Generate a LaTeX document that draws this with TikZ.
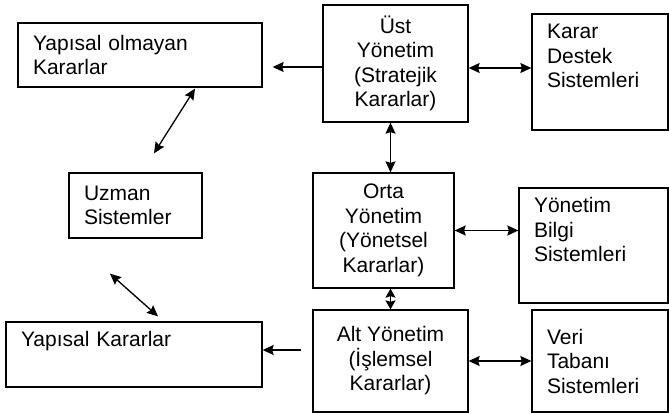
\documentclass[tikz,border=0pt]{standalone}
\usepackage{fontspec}
\setmainfont{Liberation Sans}
\usetikzlibrary{arrows.meta,calc}

\begin{document}
\begin{tikzpicture}[x=1pt, y=-1pt, >={Stealth[length=11pt,width=10pt,inset=1.5pt]},
    every node/.style={font=\fontsize{21}{24.5}\selectfont},
    box/.style={draw, line width=1.3pt, inner sep=0pt},
    leftbox/.style={box, align=left, inner xsep=15pt},
    midbox/.style={box, align=center},
    link/.style={line width=1.3pt}]
  \useasboundingbox (0,0) rectangle (669,414);

  % management levels
  \node[midbox, minimum width=145pt, minimum height=117pt] (ust)
        at (395.5,63.5) {Üst\\Yönetim\\(Stratejik\\Kararlar)};
  \node[midbox, minimum width=141pt, minimum height=115pt] (orta)
        at (383.5,230.5) {Orta\\Yönetim\\(Yönetsel\\Kararlar)};
  \node[midbox, minimum width=155pt, minimum height=102pt] (alt)
        at (390.5,361) {Alt Yönetim\\(İşlemsel\\Kararlar)};

  % information systems
  \node[leftbox, text width=106pt, minimum height=116pt] (kds)
        at (600,72) {Karar\\Destek\\Sistemleri\\\strut};
  \node[leftbox, text width=119pt, minimum height=115pt] (ybs)
        at (593.5,245.5) {Yönetim\\Bilgi\\Sistemleri\\\strut};
  \node[leftbox, text width=106pt, minimum height=102pt] (vts)
        at (600,361) {Veri\\Tabanı\\Sistemleri};

  % decision types
  \node[leftbox, text width=214pt, minimum height=64pt] (ystru)
        at (140,55) {Yapısal olmayan\\Kararlar};
  \node[leftbox, text width=103pt, minimum height=65pt] (uzman)
        at (135.5,205.5) {Uzman\\Sistemler};
  \node[leftbox, text width=226pt, minimum height=65pt] (yk)
        at (134,354.5) {Yapısal Kararlar\\\strut};

  \coordinate (ustl) at ($(ust.west)+(0,3.5)$);
  \coordinate (ustr) at ($(ust.east)+(0,4.5)$);
  \coordinate (altl) at ($(alt.west)+(0,-11)$);

  \draw[link, ->, shorten >=10pt] (ustl) -- (ustl -| ystru.east);
  \draw[link, <->] (ustr) -- (ustr -| kds.west);
  \draw[link, <->] (ust.south -| alt.north) -- (alt.north |- orta.north);
  \draw[link, <->] (orta.east) -- (orta.east -| ybs.west);
  \draw[link, {Stealth[length=9pt,width=10pt,inset=1.5pt]}-{Stealth[length=9pt,width=10pt,inset=1.5pt]}]
        (alt.north) -- (alt.north |- orta.south);
  \draw[link, <->] (alt.east) -- (alt.east -| vts.west);
  \draw[link, ->, shorten <=11pt] (altl) -- (altl -| yk.east);

  \draw[link, <->] ([xshift=55pt, yshift=-1pt]ystru.south)
        -- ([xshift=18.5pt, yshift=19pt]uzman.north);
  \draw[link, <->] ([xshift=-25.5pt, yshift=-35pt]uzman.south)
        -- ([xshift=24pt, yshift=5pt]yk.north);
\end{tikzpicture}
\end{document}
